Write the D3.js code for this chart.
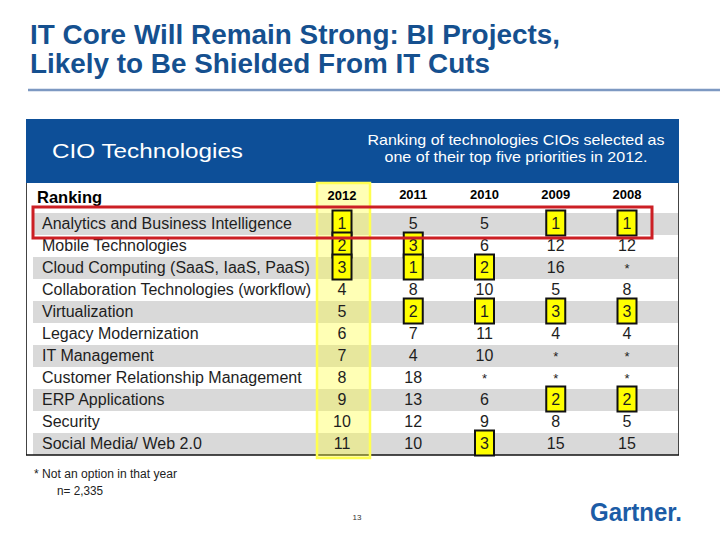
<!DOCTYPE html>
<html>
<head>
<meta charset="utf-8">
<script src="https://cdn.jsdelivr.net/npm/d3@7/dist/d3.min.js"></script>
<style>
  html, body { margin: 0; padding: 0; background: #fff; }
  svg { display: block; font-family: "Liberation Sans", Arial, sans-serif; }
</style>
</head>
<body>
<svg id="chart" width="720" height="540"></svg>
<script>
// ---- data ----
const technologies = [
  "Analytics and Business Intelligence",
  "Mobile Technologies",
  "Cloud Computing (SaaS, IaaS, PaaS)",
  "Collaboration Technologies (workflow)",
  "Virtualization",
  "Legacy Modernization",
  "IT Management",
  "Customer Relationship Management",
  "ERP Applications",
  "Security",
  "Social Media/ Web 2.0"
];
const years = ["2012", "2011", "2010", "2009", "2008"];
const rank2012 = [1, 2, 3, 4, 5, 6, 7, 8, 9, 10, 11];
const rank2011 = [5, 3, 1, 8, 2, 7, 4, 18, 13, 12, 10];
const rank2010 = [5, 6, 2, 10, 1, 11, 10, "*", 6, 9, 3];
const rank2009 = [1, 12, 16, 5, 3, 4, "*", "*", 2, 8, 15];
const rank2008 = [1, 12, "*", 8, 3, 4, "*", "*", 2, 5, 15];
const titleLines = ["IT Core Will Remain Strong: BI Projects,", "Likely to Be Shielded From IT Cuts"];
const subtitleLines = ["Ranking of technologies CIOs selected as", "one of their top five priorities in 2012."];
const footnotes = ["* Not an option in that year", "n= 2,335"];

const seriesByYear = { "2012": rank2012, "2011": rank2011, "2010": rank2010, "2009": rank2009, "2008": rank2008 };

// ---- layout ----
const svg = d3.select("#chart");
const blue = "#0d4f98";
const titleBlue = "#15508f";

const x = d3.scalePoint().domain(years).range([342, 627]);
const y = d3.scaleBand().domain(technologies).range([213, 455]).padding(0);

// title
svg.append("g").selectAll("text").data(titleLines).join("text")
  .attr("x", 30).attr("y", (d, i) => 44 + i * 29)
  .attr("font-size", 28).attr("font-weight", "bold").attr("fill", titleBlue)
  .attr("textLength", (d, i) => i === 0 ? 530 : 460)
  .attr("lengthAdjust", "spacingAndGlyphs")
  .text(d => d);

// rule under title
svg.append("line").attr("x1", 28).attr("x2", 720).attr("y1", 90).attr("y2", 90)
  .attr("stroke", "#7d99c2").attr("stroke-width", 2.5);

// blue header band
svg.append("rect").attr("x", 26).attr("y", 119).attr("width", 653).attr("height", 64).attr("fill", blue);
svg.append("text").attr("x", 52).attr("y", 158).attr("font-size", 21).attr("fill", "#fff")
  .attr("textLength", 191).attr("lengthAdjust", "spacingAndGlyphs").text("CIO Technologies");
svg.append("g").selectAll("text").data(subtitleLines).join("text")
  .attr("x", 516).attr("y", (d, i) => 145 + i * 17).attr("text-anchor", "middle")
  .attr("font-size", 14.5).attr("fill", "#fff")
  .attr("textLength", (d, i) => i === 0 ? 297 : 263).attr("lengthAdjust", "spacingAndGlyphs")
  .text(d => d);

// table frame sides
svg.append("line").attr("x1", 26.5).attr("x2", 26.5).attr("y1", 183).attr("y2", 455).attr("stroke", "#444").attr("stroke-width", 1);
svg.append("line").attr("x1", 678.5).attr("x2", 678.5).attr("y1", 183).attr("y2", 455).attr("stroke", "#444").attr("stroke-width", 1);

// stripes
svg.append("g").selectAll("rect").data(technologies.filter((d, i) => i % 2 === 0)).join("rect")
  .attr("x", 33).attr("y", d => y(d)).attr("width", 645).attr("height", y.bandwidth())
  .attr("fill", "#d9d9d9");

// bottom line
svg.append("line").attr("x1", 26).attr("x2", 679).attr("y1", 455).attr("y2", 455).attr("stroke", "#111").attr("stroke-width", 1.5);

// 2012 highlight column
svg.append("rect").attr("x", x("2012") - 25).attr("y", 183).attr("width", 53).attr("height", 275)
  .attr("fill", "rgba(255,255,60,0.38)").attr("stroke", "#ffff50").attr("stroke-width", 2.5);

// header row
svg.append("text").attr("x", 37).attr("y", 203).attr("font-size", 16.5).attr("font-weight", "bold").attr("fill", "#000").text("Ranking");
svg.append("g").selectAll("text").data(years).join("text")
  .attr("x", d => x(d)).attr("y", d => d === "2012" ? 200 : 199).attr("text-anchor", "middle")
  .attr("font-size", 13).attr("font-weight", "bold").attr("fill", "#000").text(d => d);

// row labels
svg.append("g").selectAll("text").data(technologies).join("text")
  .attr("x", 42).attr("y", d => y(d) + 15.5).attr("font-size", 16).attr("fill", "#1e1e1e")
  .text(d => d);

// cells
const cells = [];
years.forEach(yr => seriesByYear[yr].forEach((v, i) => cells.push({ yr, tech: technologies[i], v })));

const cellG = svg.append("g");
cellG.selectAll("rect").data(cells.filter(c => typeof c.v === "number" && c.v <= 3)).join("rect")
  .attr("x", c => x(c.yr) - 9.5).attr("y", c => y(c.tech) - 2.5).attr("width", 19).attr("height", 25)
  .attr("fill", "#ffff00").attr("stroke", "#111").attr("stroke-width", 2);
cellG.selectAll("text").data(cells).join("text")
  .attr("x", c => x(c.yr)).attr("y", c => y(c.tech) + (c.v === "*" ? 16 : 15.5)).attr("text-anchor", "middle")
  .attr("font-size", c => c.v === "*" ? 13 : 16).attr("fill", "#1e1e1e")
  .text(c => c.v);

// red highlight around first row
svg.append("rect").attr("x", 33).attr("y", 207).attr("width", 619).attr("height", 31)
  .attr("fill", "none").attr("stroke", "#cc1f24").attr("stroke-width", 3);

// footnotes
svg.append("g").selectAll("text").data(footnotes).join("text")
  .attr("x", (d, i) => i === 0 ? 34 : 57).attr("y", (d, i) => 478 + i * 17)
  .attr("font-size", 12.5).attr("fill", "#222")
  .attr("textLength", (d, i) => i === 0 ? 143 : 46).attr("lengthAdjust", "spacingAndGlyphs")
  .text(d => d);

// page number
svg.append("text").attr("x", 357).attr("y", 520).attr("text-anchor", "middle").attr("font-size", 8).attr("fill", "#333").text("13");

// logo text
svg.append("text").attr("x", 590).attr("y", 521).attr("font-size", 25).attr("font-weight", "bold").attr("fill", "#1c5ca6")
  .attr("textLength", 92).attr("lengthAdjust", "spacingAndGlyphs").text("Gartner.");
</script>
</body>
</html>
